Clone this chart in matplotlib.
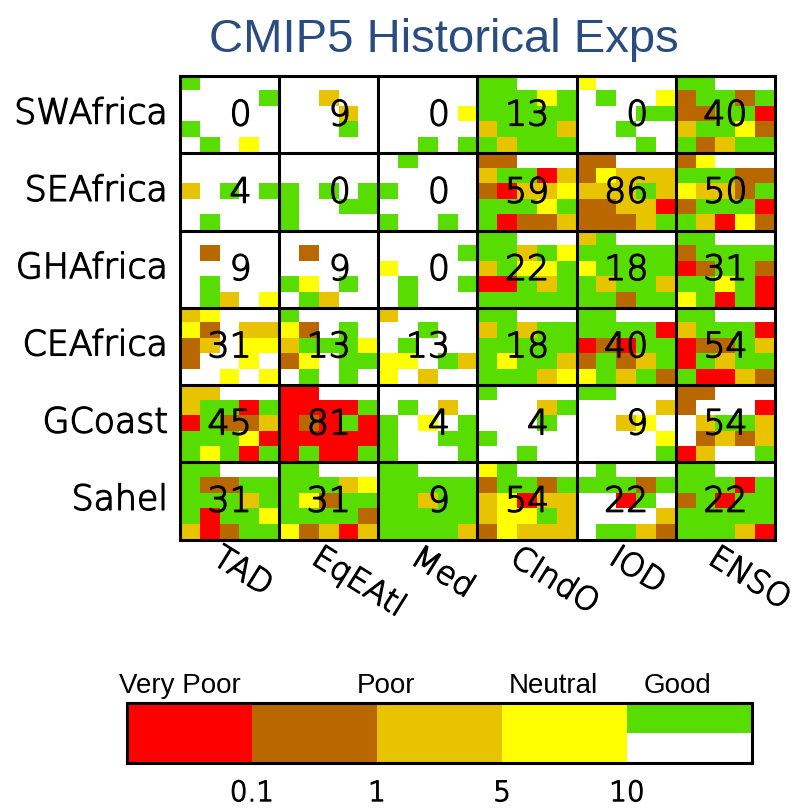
import numpy as np
import matplotlib
matplotlib.use("Agg")
import matplotlib.pyplot as plt
from matplotlib.colors import ListedColormap, BoundaryNorm
from matplotlib.patches import Rectangle
import matplotlib.transforms as mtransforms
import matplotlib.patheffects as pe

# ---------------- data ----------------
regions = ["SWAfrica", "SEAfrica", "GHAfrica", "CEAfrica", "GCoast", "Sahel"]
indices = ["TAD", "EqEAtl", "Med", "CIndO", "IOD", "ENSO"]

# percentage of models with poor skill (shown in each cell)
pct_SWAfrica = [0, 9, 0, 13, 0, 40]
pct_SEAfrica = [4, 0, 0, 59, 86, 50]
pct_GHAfrica = [9, 9, 0, 22, 18, 31]
pct_CEAfrica = [31, 13, 13, 18, 40, 54]
pct_GCoast = [45, 81, 4, 4, 9, 54]
pct_Sahel = [31, 31, 9, 54, 22, 22]

# per-model categories in each cell, 5x5 layout read row by row
# R=very poor, B=poor(<1), O=poor(<5), Y=neutral, G=good, W=good (blank)
cells_SWAfrica = [
    "GWWWW" "WWWWG" "WWWWW" "GWWWW" "WGWYW",
    "WWWWW" "WWOWW" "WWWOW" "WWWGW" "WWWWW",
    "WWWWW" "WWWWW" "WWWWY" "WWWWW" "WWGWG",
    "GGWWW" "GGGYG" "GGGGG" "OGGGO" "GOGGG",
    "YWWWW" "WGWWY" "WWWGG" "WWGWW" "WWWGW",
    "GGWWW" "BGGBG" "BBGGR" "OGGYB" "GBOGG",
]
cells_SEAfrica = [
    "WWWWW" "WWWWW" "OWGWG" "WWWWW" "WGWWW",
    "WWWWW" "WWWWW" "GWGWG" "GWWGG" "GWWWW",
    "WGWWW" "WWWWW" "GWWWW" "WWWWW" "GWWGW",
    "BBWWW" "OGGRO" "BROOY" "GGGYG" "GRBBO",
    "BBWWW" "BYOOO" "OOOGO" "BBOOR" "BBBOG",
    "BYWWW" "GGGBB" "YOOBG" "BGGGR" "GORYB",
]
cells_GHAfrica = [
    "WWWWW" "WBWWW" "WWWWW" "WGWWW" "WGOWY",
    "WWWWW" "WBWWW" "WWWWW" "GYWGW" "WGOWW",
    "WWWWW" "WWWWG" "YWWWW" "WGWWG" "WGWWW",
    "GGWWW" "GGOGY" "OGYYG" "RRGOG" "GGGGG",
    "OGWWW" "GGGGG" "YGGGG" "GOGGO" "GGBGG",
    "GGWWW" "BGGGG" "RBGGB" "GGYGR" "YGRGR",
]
cells_CEAfrica = [
    "OYWWW" "YBWOO" "BOWYY" "BWWYW" "WWYWY",
    "GWWWW" "YBWGW" "OGGGY" "BYWGG" "WGWGW",
    "OWWWW" "WWGWW" "WGWWW" "YYWGO" "YWOWW",
    "GGWWW" "OGOGG" "GGGGG" "GYGGO" "GGGOY",
    "GGWWW" "GGGGR" "RBRGG" "BGBOG" "YGOGB",
    "GGWWW" "OGGGR" "RBBGO" "RGOGG" "GRROB",
]
cells_GCoast = [
    "OOWWW" "OGGRG" "RGBBO" "GGGYR" "GYGRG",
    "RRWWW" "RRRRG" "RBRGR" "RRRRR" "RGRRG",
    "WWWWW" "WGWOW" "GWYWG" "GWWGG" "GWWWG",
    "GWWWW" "WWWOG" "WWWGW" "GWWWW" "WWGWW",
    "GGWWW" "WWWWO" "WWOYW" "WWWWY" "WWWWG",
    "BBWWW" "BWWWR" "WOGGO" "WBOBO" "ROWWG",
]
cells_Sahel = [
    "GGWWW" "GBBGG" "GGGOG" "GRGGY" "ORBGG",
    "GGWWW" "GGGOY" "GYBGG" "GGGGB" "YBORO",
    "GGWWW" "GGGGG" "GGOGG" "GGGGG" "GGGGO",
    "YGWWW" "BGGBG" "OYROO" "OYYGO" "BYOOO",
    "WGWWW" "GGGBG" "WWRGW" "WWWWO" "WGGOB",
    "GGWWW" "GGGRG" "BGRGG" "GGGGG" "GGGOR",
]

legend_labels = ["Very Poor", "Poor", "Neutral", "Good"]
legend_ticks = ["0.1", "1", "5", "10"]

# ---------------- styling ----------------
codes = "RBOYGW"
colors = ["#ff0000", "#b96800", "#e8c300", "#ffff00", "#58dd00", "#ffffff"]
cmap = ListedColormap(colors)
norm = BoundaryNorm(np.arange(-0.5, 6.5, 1), cmap.N)

pct = [pct_SWAfrica, pct_SEAfrica, pct_GHAfrica, pct_CEAfrica, pct_GCoast, pct_Sahel]
cells = [cells_SWAfrica, cells_SEAfrica, cells_GHAfrica, cells_CEAfrica,
         cells_GCoast, cells_Sahel]

nr, nc, k = len(regions), len(indices), 5
mat = np.zeros((nr * k, nc * k), dtype=int)
for i in range(nr):
    for j in range(nc):
        s = cells[i][j]
        for q, ch in enumerate(s):
            mat[i * k + q // k, j * k + q % k] = codes.index(ch)

W, H = 804, 808
fig = plt.figure(figsize=(W / 100, H / 100), dpi=100)

def fx(px):
    return px / W

def fy(py):
    return 1 - py / H

L, R, T, B = 180, 775, 76, 539.5
ax = fig.add_axes([fx(L), fy(B), (R - L) / W, (B - T) / H])
ax.imshow(mat, cmap=cmap, norm=norm, interpolation="nearest", aspect="auto",
          extent=[0, nc * k, nr * k, 0])
ax.set_xlim(0, nc * k)
ax.set_ylim(nr * k, 0)
ax.set_xticks([])
ax.set_yticks([])
for sp in ax.spines.values():
    sp.set_linewidth(2.2)
    sp.set_color("black")
for t in range(1, nc):
    ax.axvline(t * k, color="black", lw=2.2)
for t in range(1, nr):
    ax.axhline(t * k, color="black", lw=2.2)

hfont = "DejaVu Sans"
hweight = "light"
thick = [pe.withStroke(linewidth=1.0, foreground="black")]
for i in range(nr):
    for j in range(nc):
        txt = str(pct[i][j])
        if len(txt) == 1:
            txt = "\u2007" + txt
        ax.text(j * k + k / 2, i * k + k / 2 + 0.05, txt, ha="center", va="center",
                fontsize=25, family=hfont, weight=hweight, color="black",
                path_effects=thick)
    ax.text(-0.6, i * k + k / 2 + 0.58, regions[i], ha="right", va="baseline",
            fontsize=25, family=hfont, weight=hweight, color="black",
            path_effects=thick)

trans = mtransforms.blended_transform_factory(ax.transData, ax.transAxes)
for j, name in enumerate(indices):
    ax.text(j * k + k / 2 - 0.3, -0.006, name, ha="left", va="top",
            rotation=-32, rotation_mode="anchor", fontsize=23, family=hfont,
            weight=hweight, transform=trans, path_effects=thick)

fig.text(fx(444), fy(52), "CMIP5 Historical Exps", ha="center", va="baseline",
         fontsize=34, family="Liberation Sans", color="#2a4d80")

# ---------------- legend bar ----------------
bx0, bx1, by0, by1 = 127, 752, 703, 763
lax = fig.add_axes([fx(bx0), fy(by1), (bx1 - bx0) / W, (by1 - by0) / H])
lax.set_xlim(0, 5)
lax.set_ylim(0, 2)
for c in range(4):
    lax.add_patch(Rectangle((c, 0), 1, 2, facecolor=colors[c], edgecolor="none"))
lax.add_patch(Rectangle((4, 1), 1, 1, facecolor=colors[4], edgecolor="none"))
lax.add_patch(Rectangle((4, 0), 1, 1, facecolor=colors[5], edgecolor="none"))
lax.set_xticks([])
lax.set_yticks([])
for sp in lax.spines.values():
    sp.set_linewidth(2.2)

label_x = [180, 386, 553, 678]
for lx, lab in zip(label_x, legend_labels):
    fig.text(fx(lx), fy(693), lab, ha="center", va="baseline", fontsize=20,
             family="Liberation Sans", color="black")
tick_px = [bx0 + (bx1 - bx0) * (c + 1) / 5 for c in range(4)]
for tx, lab in zip(tick_px, legend_ticks):
    fig.text(fx(tx), fy(801), lab, ha="center", va="baseline", fontsize=20,
             family=hfont, weight=hweight, path_effects=thick)

fig.savefig("out.png", dpi=100)
